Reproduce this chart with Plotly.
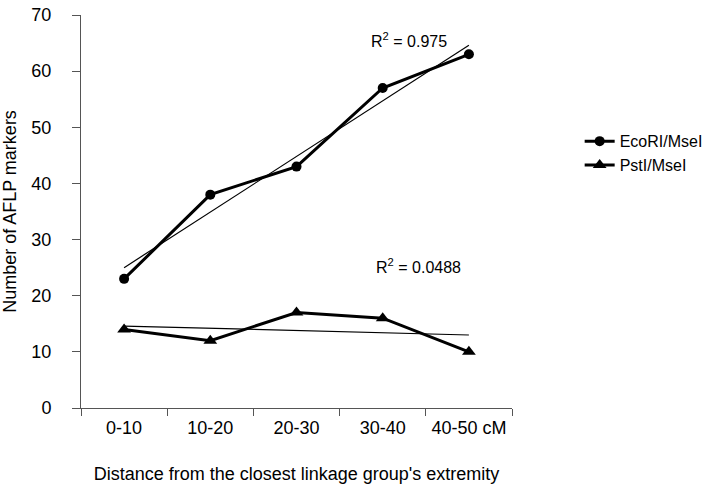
import numpy as np
import plotly.graph_objects as go

categories = ["0-10", "10-20", "20-30", "30-40", "40-50 cM"]
ecori_msei = [23, 38, 43, 57, 63]
psti_msei = [14, 12, 17, 16, 10]
r2_labels = ["R<sup>2</sup> = 0.975", "R<sup>2</sup> = 0.0488"]

FONT = "Arial, Liberation Sans, sans-serif"

def trend(y):
    x = np.arange(1, len(y) + 1)
    k, b = np.polyfit(x, y, 1)
    return list(k * x + b)

fig = go.Figure()
fig.add_trace(go.Scatter(x=categories, y=ecori_msei, mode="lines+markers", name="EcoRI/MseI",
                         line=dict(color="black", width=3),
                         marker=dict(symbol="circle", size=10, color="black")))
fig.add_trace(go.Scatter(x=categories, y=psti_msei, mode="lines+markers", name="PstI/MseI",
                         line=dict(color="black", width=3),
                         marker=dict(symbol="triangle-up", size=12, color="black")))
fig.add_trace(go.Scatter(x=categories, y=trend(ecori_msei), mode="lines", showlegend=False,
                         line=dict(color="black", width=1.2), hoverinfo="skip"))
fig.add_trace(go.Scatter(x=categories, y=trend(psti_msei), mode="lines", showlegend=False,
                         line=dict(color="black", width=1.2), hoverinfo="skip"))

fig.add_annotation(x=3.31, y=65.6, xref="x", yref="y", text=r2_labels[0], showarrow=False,
                   font=dict(family=FONT, size=16, color="black"))
fig.add_annotation(x=3.42, y=25.3, xref="x", yref="y", text=r2_labels[1], showarrow=False,
                   font=dict(family=FONT, size=16, color="black"))

fig.update_layout(
    width=720, height=492,
    margin=dict(l=81, r=202, t=15, b=84),
    paper_bgcolor="white", plot_bgcolor="white",
    font=dict(family=FONT, size=18, color="black"),
    legend=dict(x=1.157, y=0.722, xanchor="left", yanchor="top",
                font=dict(family=FONT, size=16, color="black"),
                bgcolor="rgba(0,0,0,0)"),
    showlegend=True,
)
fig.update_xaxes(
    type="category", range=[-0.5, 4.5], automargin=False,
    showline=True, linecolor="#555", linewidth=1,
    ticks="outside", tickson="boundaries", ticklen=7, tickcolor="#555", ticklabelstandoff=3,
    showgrid=False, zeroline=False,
    tickfont=dict(family=FONT, size=18, color="black"),
    title=dict(text="Distance from the closest linkage group's extremity",
               font=dict(family=FONT, size=18, color="black"), standoff=30),
)
fig.update_yaxes(
    range=[0, 70], dtick=10, automargin=False,
    showline=True, linecolor="#555", linewidth=1,
    ticks="outside", ticklen=8, tickcolor="#555", ticklabelstandoff=17,
    showgrid=False, zeroline=False,
    tickfont=dict(family=FONT, size=18, color="black"),
    title=dict(text="Number of AFLP markers",
               font=dict(family=FONT, size=18, color="black"), standoff=10),
)

fig.write_html("out.html", config={"displayModeBar": False},
               post_script="document.body.style.margin='0';")
